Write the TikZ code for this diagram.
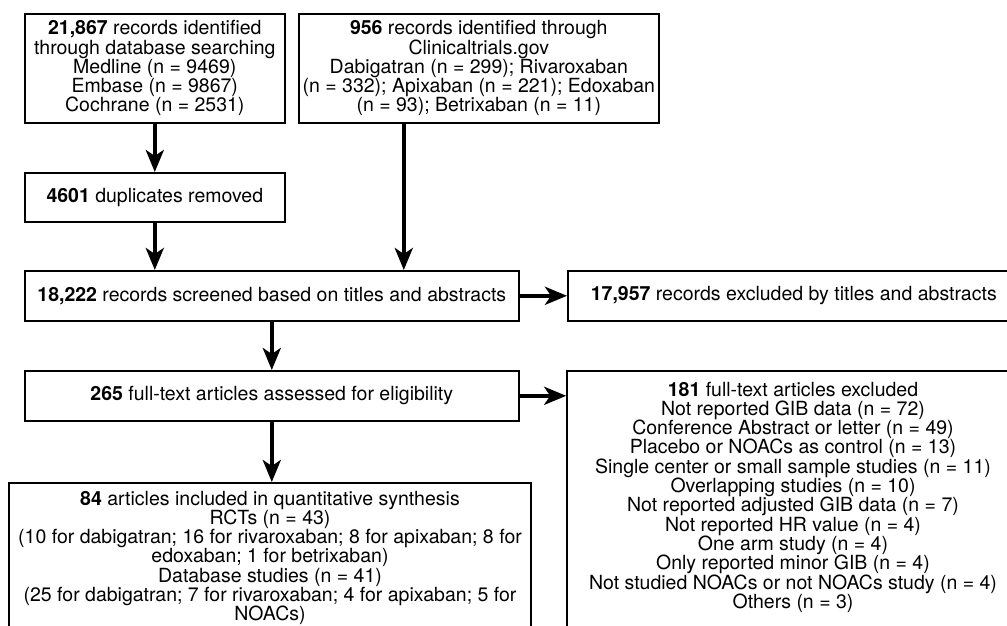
\documentclass[tikz,border=0pt]{standalone}
\usepackage{fontspec}
\setmainfont{TeX Gyre Heros}
\usetikzlibrary{arrows.meta}

\begin{document}
\begin{tikzpicture}[x=1pt, y=-1pt,
    box/.style={draw, line width=1.6pt, align=center, inner sep=2pt, anchor=north west, font=\fontsize{19.5}{19.3}\selectfont},
    tallbox/.style={box, anchor=north, inner xsep=2pt},
    arr/.style={-{Stealth[length=22pt, width=18pt, inset=6pt]}, line width=4pt}]
    \clip (0,0) rectangle (1007,625);

    \node (b1) at (24,13) [box, minimum width=260pt, minimum height=109pt] {\textbf{21,867} records identified\\through database searching\\Medline (n = 9469)\\Embase (n = 9867)\\Cochrane (n = 2531)};

    \node (b2) at (298,13) [box, minimum width=360pt, minimum height=109pt] {\textbf{956} records identified through\\Clinicaltrials.gov\\Dabigatran (n = 299); Rivaroxaban\\(n = 332); Apixaban (n = 221); Edoxaban\\(n = 93); Betrixaban (n = 11)};

    \node (b3) at (24,172) [box, minimum width=260pt, minimum height=49pt] {\textbf{4601} duplicates removed};
    \draw[arr] (b1) -- (b3);

    \node (scr) at (24,270) [box, minimum width=494pt, minimum height=50pt] {\textbf{18,222} records screened based on titles and abstracts};
    \draw[arr] (b3.south) -- (b3.south |- scr.north);
    \draw[arr] ([xshift=-75pt]b2.south) -- ([xshift=-75pt]b2.south |- scr.north);

    \node (ex1) at (567,270) [box, minimum width=452pt, minimum height=50pt] {\textbf{17,957} records excluded by titles and abstracts};
    \draw[arr] (scr) -- (ex1);

    \node (full) at (24,370) [box, minimum width=494pt, minimum height=50pt] {\textbf{265} full-text articles assessed for eligibility};
    \draw[arr] (scr) -- (full);

    \node (ex2) at (793,370) [tallbox, minimum width=452pt, inner ysep=11pt] {\textbf{181} full-text articles excluded\\Not reported GIB data (n = 72)\\Conference Abstract or letter (n = 49)\\Placebo or NOACs as control (n = 13)\\Single center or small sample studies (n = 11)\\Overlapping studies (n = 10)\\Not reported adjusted GIB data (n = 7)\\Not reported HR value (n = 4)\\One arm study (n = 4)\\Only reported minor GIB (n = 4)\\Not studied NOACs or not NOACs study (n = 4)\\Others (n = 3)\rule[-30pt]{0pt}{0pt}};
    \draw[arr] (full.east) -- (full.east -| ex2.west);

    \node (inc) at (270,482) [tallbox, minimum width=522pt, inner ysep=8pt] {\textbf{84} articles included in quantitative synthesis\\RCTs (n = 43)\\(10 for dabigatran; 16 for rivaroxaban; 8 for apixaban; 8 for\\edoxaban; 1 for betrixaban)\\Database studies (n = 41)\\(25 for dabigatran; 7 for rivaroxaban; 4 for apixaban; 5 for\\NOACs)\rule[-30pt]{0pt}{0pt}};
    \draw[arr] (full.south) -- (full.south |- inc.north);
\end{tikzpicture}
\end{document}
